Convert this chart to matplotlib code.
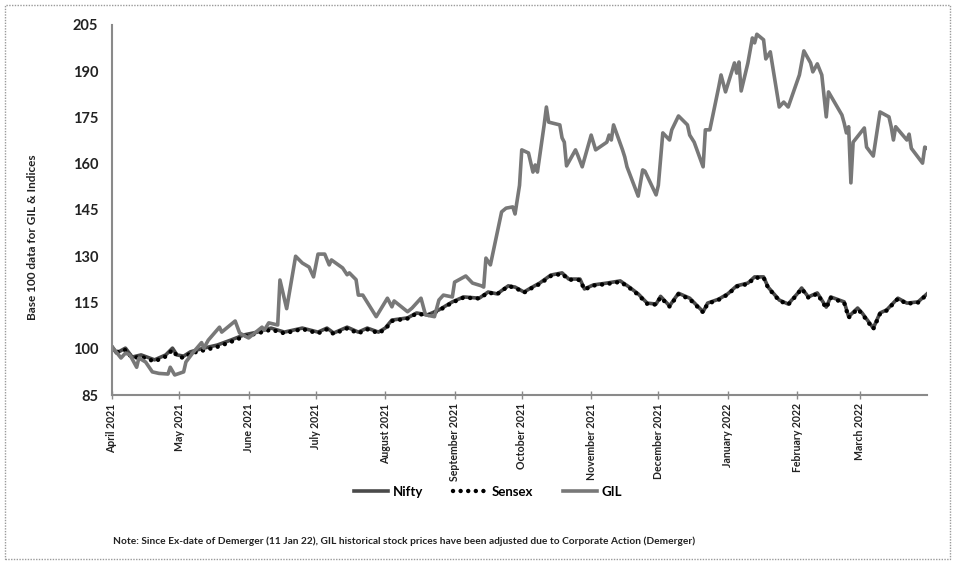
import matplotlib
matplotlib.use("Agg")
import matplotlib.pyplot as plt
import matplotlib.dates as mdates
from matplotlib.patches import Rectangle
import pandas as pd

# ---- data (base 100) ----
nifty_dates = ["2021-04-01", "2021-04-03", "2021-04-07", "2021-04-10", "2021-04-14", "2021-04-20",
               "2021-04-25", "2021-04-28", "2021-04-30", "2021-05-03", "2021-05-06", "2021-05-12",
               "2021-05-18", "2021-05-24", "2021-05-30", "2021-06-05", "2021-06-11", "2021-06-17",
               "2021-06-25", "2021-07-02", "2021-07-06", "2021-07-09", "2021-07-15", "2021-07-20",
               "2021-07-24", "2021-07-29", "2021-08-01", "2021-08-04", "2021-08-11", "2021-08-15",
               "2021-08-20", "2021-08-25", "2021-08-31", "2021-09-05", "2021-09-12", "2021-09-16",
               "2021-09-20", "2021-09-25", "2021-09-28", "2021-10-02", "2021-10-05", "2021-10-09",
               "2021-10-14", "2021-10-19", "2021-10-22", "2021-10-27", "2021-10-29", "2021-11-02",
               "2021-11-08", "2021-11-14", "2021-11-18", "2021-11-22", "2021-11-26", "2021-11-30",
               "2021-12-02", "2021-12-06", "2021-12-10", "2021-12-15", "2021-12-21", "2021-12-23",
               "2021-12-28", "2022-01-01", "2022-01-05", "2022-01-10", "2022-01-13", "2022-01-17",
               "2022-01-19", "2022-01-24", "2022-01-28", "2022-02-01", "2022-02-03", "2022-02-06",
               "2022-02-10", "2022-02-14", "2022-02-16", "2022-02-22", "2022-02-24", "2022-02-28",
               "2022-03-02", "2022-03-07", "2022-03-10", "2022-03-13", "2022-03-18", "2022-03-22",
               "2022-03-27", "2022-03-31"]
nifty = [100.6, 98.6, 100.2, 97.3, 98, 96.4, 98, 100.2, 98, 97.6,
         99, 100.2, 101.2, 102.8, 104.5, 105.4, 106.7, 105.4, 106.7, 105.4,
         106.7, 105.1, 107, 105.4, 106.7, 105.4, 106.7, 109.3, 110, 111.6,
         111, 112.6, 115.2, 116.8, 116.4, 118.4, 117.8, 120.4, 120, 118.4,
         119.7, 121.3, 123.9, 124.6, 122.6, 122.6, 119.4, 120.7, 121.3, 122,
         120, 117.8, 114.8, 114.5, 117, 113.9, 118, 116.4, 112, 114.8,
         116.1, 117.8, 120.4, 121.3, 123.3, 123.3, 120, 115.8, 114.5, 117.8,
         119.7, 116.8, 118.1, 113.5, 116.8, 115.2, 110.4, 113.2, 111.6, 106.7,
         111.6, 112.6, 116.4, 114.8, 115.2, 117.8]
sensex = [100.4, 98.9, 99.6, 97.0, 97.4, 95.9, 97.5, 99.6, 97.7, 97.0,
          98.5, 99.5, 100.6, 102.2, 104.0, 105.0, 106.2, 105.0, 106.4, 105.0,
          106.3, 104.8, 106.6, 105.0, 106.3, 105.1, 106.3, 109.0, 109.8, 111.4,
          110.8, 112.4, 115.0, 116.6, 116.3, 118.2, 117.7, 120.3, 119.8, 118.2,
          119.5, 121.0, 123.6, 124.3, 122.4, 122.3, 119.2, 120.5, 121.0, 121.7,
          119.8, 117.5, 114.6, 114.3, 116.7, 113.7, 117.7, 116.1, 111.8, 114.6,
          115.9, 117.6, 120.2, 121.0, 123.0, 123.1, 119.8, 115.6, 114.3, 117.6,
          119.5, 116.6, 117.8, 113.2, 116.5, 114.9, 110.1, 112.9, 111.3, 106.4,
          111.3, 112.4, 116.2, 114.6, 115.0, 117.6]

gil_dates = ["2021-04-01", "2021-04-05", "2021-04-07", "2021-04-09", "2021-04-12", "2021-04-13",
             "2021-04-16", "2021-04-19", "2021-04-22", "2021-04-26", "2021-04-27", "2021-04-29",
             "2021-05-03", "2021-05-04", "2021-05-07", "2021-05-11", "2021-05-12", "2021-05-14",
             "2021-05-19", "2021-05-20", "2021-05-26", "2021-05-28", "2021-06-01", "2021-06-07",
             "2021-06-08", "2021-06-10", "2021-06-14", "2021-06-15", "2021-06-18", "2021-06-22",
             "2021-06-25", "2021-06-28", "2021-06-30", "2021-07-02", "2021-07-05", "2021-07-07",
             "2021-07-08", "2021-07-13", "2021-07-15", "2021-07-16", "2021-07-19", "2021-07-20",
             "2021-07-22", "2021-07-28", "2021-08-02", "2021-08-04", "2021-08-05", "2021-08-11",
             "2021-08-13", "2021-08-17", "2021-08-19", "2021-08-23", "2021-08-25", "2021-08-27",
             "2021-08-31", "2021-09-01", "2021-09-06", "2021-09-09", "2021-09-13", "2021-09-14",
             "2021-09-15", "2021-09-17", "2021-09-22", "2021-09-24", "2021-09-27", "2021-09-28",
             "2021-09-30", "2021-10-01", "2021-10-04", "2021-10-06", "2021-10-07", "2021-10-08",
             "2021-10-11", "2021-10-12", "2021-10-13", "2021-10-18", "2021-10-19", "2021-10-20",
             "2021-10-21", "2021-10-25", "2021-10-26", "2021-10-28", "2021-11-01", "2021-11-03",
             "2021-11-08", "2021-11-09", "2021-11-10", "2021-11-11", "2021-11-15", "2021-11-16",
             "2021-11-17", "2021-11-22", "2021-11-24", "2021-11-25", "2021-11-30", "2021-12-01",
             "2021-12-03", "2021-12-06", "2021-12-07", "2021-12-10", "2021-12-14", "2021-12-15",
             "2021-12-17", "2021-12-21", "2021-12-22", "2021-12-24", "2021-12-28", "2021-12-29",
             "2021-12-31", "2022-01-04", "2022-01-05", "2022-01-06", "2022-01-07", "2022-01-10",
             "2022-01-12", "2022-01-13", "2022-01-14", "2022-01-17", "2022-01-18", "2022-01-20",
             "2022-01-24", "2022-01-26", "2022-01-28", "2022-02-02", "2022-02-04", "2022-02-07",
             "2022-02-08", "2022-02-10", "2022-02-12", "2022-02-14", "2022-02-15", "2022-02-21",
             "2022-02-22", "2022-02-23", "2022-02-24", "2022-02-25", "2022-02-26", "2022-03-03",
             "2022-03-04", "2022-03-07", "2022-03-10", "2022-03-14", "2022-03-15", "2022-03-16",
             "2022-03-17", "2022-03-22", "2022-03-23", "2022-03-24", "2022-03-29", "2022-03-30",
             "2022-03-31"]
gil = [100.7, 97, 98.6, 98, 94, 97, 95.7, 92.5, 92, 91.8,
       94, 91.5, 92.5, 95.7, 98.6, 102, 100.2, 102.8, 107, 105.4,
       109, 105.1, 103.5, 107, 106, 108.4, 107.7, 122.3, 113, 130,
       127.8, 126.5, 123.3, 130.7, 130.7, 127.2, 128.8, 126.2, 124, 124.6,
       122.4, 117.4, 117.4, 110.4, 116.4, 113.6, 115.5, 112, 113.2, 116.4,
       111, 110.4, 115.8, 117.4, 116.8, 121.6, 123.6, 121.3, 120.4, 120,
       129.4, 127.2, 144.4, 145.6, 146, 143.7, 153, 164.5, 163.5, 157.3,
       159.6, 157.3, 172.6, 178.4, 173.5, 172.6, 168.4, 167, 159.3, 164.5,
       162.8, 159, 169.3, 164.5, 167, 169.3, 167.7, 172.6, 164.5, 162.2,
       159, 149.5, 158, 157.6, 149.9, 153, 170, 167.7, 171, 175.5,
       172.6, 169.3, 167, 159, 171, 171, 185, 188.8, 183.3, 192.7,
       189.4, 193, 183.6, 192.7, 200.8, 199.2, 202, 200.2, 194, 196.3,
       178.4, 180, 178.4, 188.8, 196.6, 192.7, 189.8, 192.4, 188.8, 175.2,
       183.3, 175.8, 173.2, 170, 172, 153.8, 167, 171.6, 165.4, 162.5,
       176.8, 175.2, 172, 167.7, 172, 167.7, 169.6, 165, 160.2, 165.4,
       165]

y_ticks = [85, 100, 115, 130, 145, 160, 175, 190, 205]
month_ticks = ["2021-04-01", "2021-05-01", "2021-06-01", "2021-07-01", "2021-08-01",
               "2021-09-01", "2021-10-01", "2021-11-01", "2021-12-01", "2022-01-01",
               "2022-02-01", "2022-03-01"]
note = ("Note: Since Ex-date of Demerger (11 Jan 22), GIL historical stock prices "
        "have been adjusted due to Corporate Action (Demerger)")

plt.rcParams["font.family"] = ["Lato", "DejaVu Sans"]
plt.rcParams["font.weight"] = "bold"

fig = plt.figure(figsize=(9.55, 5.63), dpi=100)
ax = fig.add_axes([0.1173, 0.2984, 0.8534, 0.6572])

nd = pd.to_datetime(nifty_dates)
gd = pd.to_datetime(gil_dates)

ax.plot(nd, nifty, color="#4a4a4a", lw=2.6, label="Nifty", solid_joinstyle="round")
ax.plot(nd, sensex, color="black", lw=3.2, linestyle=(0, (0.01, 1.7)),
        dash_capstyle="round", label="Sensex")
ax.plot(gd, gil, color="#787878", lw=2.6, label="GIL", solid_joinstyle="round")

ax.set_ylim(85, 205)
ax.set_yticks(y_ticks)
ax.set_xlim(pd.Timestamp("2021-04-01"), pd.Timestamp("2022-03-31"))
ax.set_xticks(pd.to_datetime(month_ticks))
ax.xaxis.set_major_formatter(mdates.DateFormatter("%B %Y"))

for s in ["top", "right"]:
    ax.spines[s].set_visible(False)
for s in ["left", "bottom"]:
    ax.spines[s].set_color("#8a8a8a")
    ax.spines[s].set_linewidth(1.5)

ax.tick_params(axis="y", length=0, pad=10, labelsize=10.5, labelcolor="#222222")
ax.tick_params(axis="x", direction="inout", length=6, width=1, color="#8a8a8a",
               labelsize=7.6, labelcolor="#222222", pad=3)
for lbl in ax.get_xticklabels():
    lbl.set_rotation(90)
    lbl.set_fontweight("bold")
for lbl in ax.get_yticklabels():
    lbl.set_fontweight("bold")

fig.text(33 / 955, 1 - 237 / 563, "Base 100 data for GIL & Indices", rotation=90,
         ha="center", va="center", fontsize=8.5, fontweight="bold", color="#222222")

leg = fig.legend(loc="center", bbox_to_anchor=(488 / 955, 1 - 492 / 563), ncol=3,
                 frameon=False, handlelength=2.6, columnspacing=2.3, handletextpad=0.3,
                 prop={"size": 9.5, "weight": "bold"})

fig.text(113 / 955, 1 - 541 / 563, note, ha="left", va="center", fontsize=7.3,
         fontweight="bold", color="#222222")

fig.patches.append(Rectangle((0.005, 0.007), 0.99, 0.985, transform=fig.transFigure,
                             fill=False, ls=(0, (1, 1)), ec="#9a9a9a", lw=1))

fig.savefig("out.png", dpi=100)
